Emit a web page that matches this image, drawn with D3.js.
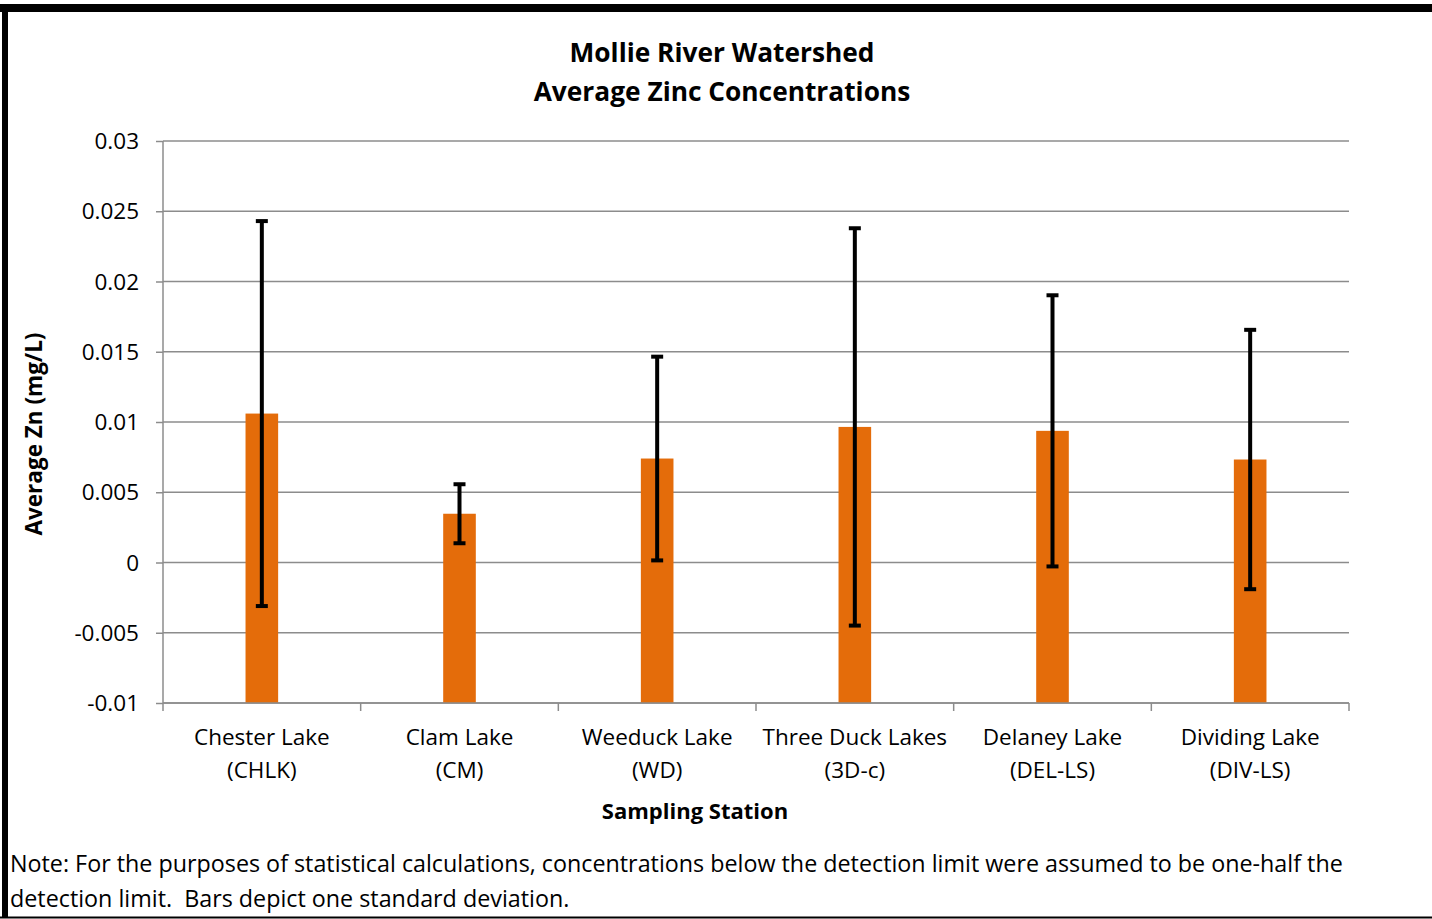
<!DOCTYPE html>
<html>
<head>
<meta charset="utf-8">
<script src="https://cdn.jsdelivr.net/npm/d3@7"></script>
<style>
  body { margin: 0; background: #fff; }
  svg text { font-family: "Open Sans", Lato, sans-serif; fill: #000; }
</style>
</head>
<body>
<div id="chart"></div>
<script>
// Data
const stations = ["Chester Lake", "Clam Lake", "Weeduck Lake", "Three Duck Lakes", "Delaney Lake", "Dividing Lake"];
const stationCodes = ["(CHLK)", "(CM)", "(WD)", "(3D-c)", "(DEL-LS)", "(DIV-LS)"];
const avgZn = [0.0106, 0.00347, 0.0074, 0.00965, 0.00937, 0.00733];
const stdDev = [0.0137, 0.0021, 0.00725, 0.01414, 0.00965, 0.00923];
const yTicks = [-0.01, -0.005, 0, 0.005, 0.01, 0.015, 0.02, 0.025, 0.03];

const width = 1432, height = 919;
const margin = { top: 141, right: 83, bottom: 216, left: 163 };
const plotW = width - margin.left - margin.right;
const plotH = height - margin.top - margin.bottom;

const svg = d3.select("#chart").append("svg")
    .attr("width", width)
    .attr("height", height);

// Frame (thick top/left, thin bottom)
svg.append("rect").attr("x", 0).attr("y", 4).attr("width", width).attr("height", 8).attr("fill", "#000");
svg.append("rect").attr("x", 2).attr("y", 4).attr("width", 6).attr("height", 914).attr("fill", "#000");
svg.append("rect").attr("x", 0).attr("y", 916.5).attr("width", width).attr("height", 2).attr("fill", "#000");

const g = svg.append("g")
    .attr("transform", `translate(${margin.left}, ${margin.top})`);

const x = d3.scaleBand()
    .domain(stations)
    .range([0, plotW])
    .paddingInner(0.835)
    .paddingOuter(0.4175);

const y = d3.scaleLinear()
    .domain([-0.01, 0.03])
    .range([plotH, 0]);

// Gridlines
g.append("g")
    .selectAll("line")
    .data(yTicks)
    .enter()
    .append("line")
    .attr("x1", 0)
    .attr("x2", plotW)
    .attr("y1", d => y(d))
    .attr("y2", d => y(d))
    .attr("stroke", "#8c8c8c")
    .attr("stroke-width", 1.5);

// Y axis
const yAxis = g.append("g")
    .call(d3.axisLeft(y).tickValues(yTicks).tickSize(7).tickPadding(17)
        .tickFormat(d => d === 0 ? "0" : String(+d.toFixed(3))));
yAxis.select(".domain").attr("stroke", "#8c8c8c").attr("stroke-width", 1.5).attr("d", `M0,0V${plotH}`);
yAxis.selectAll(".tick line").attr("stroke", "#8c8c8c").attr("stroke-width", 1.5);
yAxis.selectAll("text").style("font-size", "22.5px").attr("dy", "0.34em");

// Bars (from the axis crossing at the minimum)
g.selectAll("rect.bar")
    .data(stations)
    .enter()
    .append("rect")
    .attr("class", "bar")
    .attr("x", d => x(d))
    .attr("width", x.bandwidth())
    .attr("y", (d, i) => y(avgZn[i]))
    .attr("height", (d, i) => y(-0.01) - y(avgZn[i]))
    .attr("fill", "#e46c0a");

// Error bars
const err = g.append("g").selectAll("g")
    .data(stations)
    .enter()
    .append("g")
    .attr("transform", d => `translate(${x(d) + x.bandwidth() / 2}, 0)`);

err.append("line")
    .attr("y1", (d, i) => y(avgZn[i] + stdDev[i]))
    .attr("y2", (d, i) => y(avgZn[i] - stdDev[i]))
    .attr("stroke", "#000")
    .attr("stroke-width", 4);
[1, -1].forEach(s => {
    err.append("line")
        .attr("x1", -6).attr("x2", 6)
        .attr("y1", (d, i) => y(avgZn[i] + s * stdDev[i]))
        .attr("y2", (d, i) => y(avgZn[i] + s * stdDev[i]))
        .attr("stroke", "#000")
        .attr("stroke-width", 4);
});

// X axis with tick marks at category boundaries
g.append("line")
    .attr("x1", 0).attr("x2", plotW)
    .attr("y1", plotH).attr("y2", plotH)
    .attr("stroke", "#8c8c8c").attr("stroke-width", 1.5);
const step = x.step();
g.append("g").selectAll("line")
    .data(d3.range(stations.length + 1))
    .enter()
    .append("line")
    .attr("x1", i => x(stations[0]) - x.paddingOuter() * step + i * step)
    .attr("x2", i => x(stations[0]) - x.paddingOuter() * step + i * step)
    .attr("y1", plotH)
    .attr("y2", plotH + 8)
    .attr("stroke", "#8c8c8c").attr("stroke-width", 1.5);

// Category labels
const labels = g.append("g").selectAll("text")
    .data(stations)
    .enter()
    .append("text")
    .attr("x", d => x(d) + x.bandwidth() / 2)
    .attr("y", plotH + 42)
    .attr("text-anchor", "middle")
    .style("font-size", "22.5px");
labels.append("tspan").text(d => d);
labels.append("tspan")
    .attr("x", d => x(d) + x.bandwidth() / 2)
    .attr("dy", 33)
    .text((d, i) => stationCodes[i]);

// Title
svg.append("text")
    .attr("x", 722).attr("y", 62)
    .attr("text-anchor", "middle")
    .style("font-size", "26.3px").style("font-weight", "bold")
    .text("Mollie River Watershed");
svg.append("text")
    .attr("x", 722).attr("y", 101)
    .attr("text-anchor", "middle")
    .style("font-size", "26.3px").style("font-weight", "bold")
    .text("Average Zinc Concentrations");

// Axis titles
svg.append("text")
    .attr("transform", "translate(42, 434) rotate(-90)")
    .attr("text-anchor", "middle")
    .style("font-size", "22.5px").style("font-weight", "bold")
    .text("Average Zn (mg/L)");
svg.append("text")
    .attr("x", 695).attr("y", 819)
    .attr("text-anchor", "middle")
    .style("font-size", "22px").style("font-weight", "bold")
    .text("Sampling Station");

// Note
svg.append("text")
    .attr("x", 10).attr("y", 872)
    .style("font-size", "23.3px")
    .text("Note: For the purposes of statistical calculations, concentrations below the detection limit were assumed to be one-half the");
svg.append("text")
    .attr("x", 10).attr("y", 907)
    .style("font-size", "23.3px")
    .attr("xml:space", "preserve")
    .text("detection limit.  Bars depict one standard deviation.");
</script>
</body>
</html>
